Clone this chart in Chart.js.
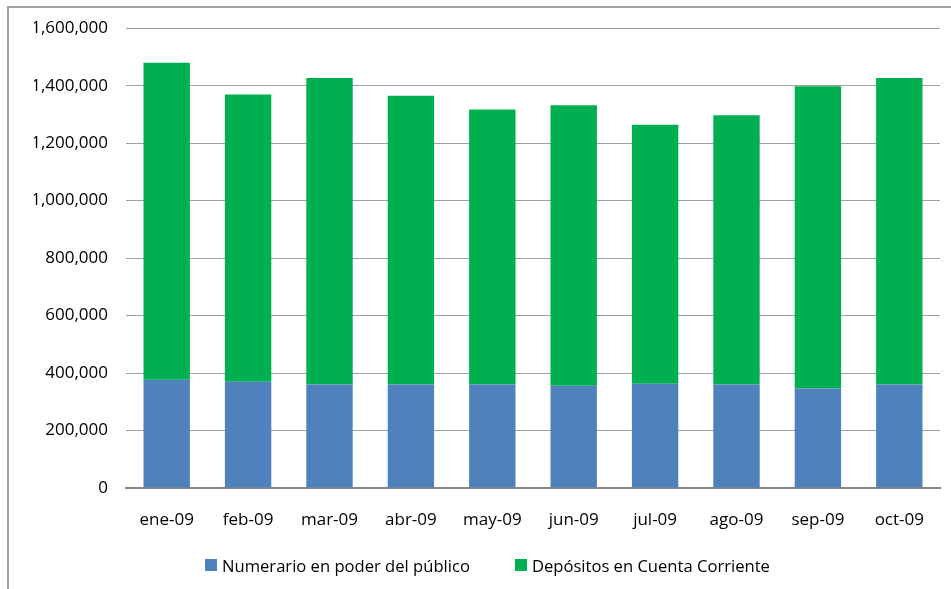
<!DOCTYPE html>
<html lang="es">
<head>
<meta charset="utf-8">
<title>Numerario y depósitos 2009</title>
<script src="https://cdn.jsdelivr.net/npm/chart.js@4.4.1/dist/chart.umd.min.js"></script>
<style>
  html, body { margin: 0; padding: 0; background: #fff; }
  .chart-wrap { position: relative; width: 951px; height: 589px; }
  #legend {
    position: absolute; left: 205px; top: 555px; height: 20px;
    display: flex; align-items: center;
    font-family: 'Open Sans', 'Noto Sans', sans-serif; font-size: 16.6px; color: #000;
  }
  #legend .item { display: flex; align-items: center; margin-right: 45px; white-space: nowrap; }
  #legend .box { width: 12px; height: 12px; margin-right: 5px; }
</style>
</head>
<body>
<div class="chart-wrap">
  <canvas id="monetaryChart"></canvas>
  <div id="legend"></div>
</div>
<script>
// Monthly figures, 2009
const months = ["ene-09", "feb-09", "mar-09", "abr-09", "may-09", "jun-09", "jul-09", "ago-09", "sep-09", "oct-09"];
const numerario = [377000, 370000, 360000, 360000, 360000, 356000, 363000, 360000, 346000, 360000];
const depositos = [1103000, 999000, 1067000, 1005000, 957000, 976000, 901000, 937000, 1052000, 1067000];
const yTicks = [0, 200000, 400000, 600000, 800000, 1000000, 1200000, 1400000, 1600000];

const FONT = "'Open Sans', 'Noto Sans', sans-serif";

// Outer frame of the chart object (left and top edges)
const framePlugin = {
  id: "frame",
  beforeDraw(chart) {
    const ctx = chart.ctx;
    ctx.save();
    ctx.strokeStyle = "#a0a0a0";
    ctx.lineWidth = 2;
    ctx.beginPath();
    ctx.moveTo(8, chart.height);
    ctx.lineTo(8, 7);
    ctx.lineTo(chart.width, 7);
    ctx.stroke();
    ctx.restore();
  }
};

// Legend built in HTML from the chart's own legend items
const htmlLegendPlugin = {
  id: "htmlLegend",
  afterUpdate(chart) {
    const container = document.getElementById("legend");
    container.innerHTML = "";
    const items = chart.options.plugins.legend.labels.generateLabels(chart);
    items.forEach(item => {
      const el = document.createElement("span");
      el.className = "item";
      const box = document.createElement("span");
      box.className = "box";
      box.style.background = item.fillStyle;
      el.appendChild(box);
      el.appendChild(document.createTextNode(item.text));
      container.appendChild(el);
    });
  }
};

new Chart(document.getElementById("monetaryChart"), {
  type: "bar",
  data: {
    labels: months,
    datasets: [
      {
        label: "Numerario en poder del público",
        data: numerario,
        backgroundColor: "#4f81bd",
        barPercentage: 0.57,
        categoryPercentage: 1
      },
      {
        label: "Depósitos en Cuenta Corriente",
        data: depositos,
        backgroundColor: "#00b050",
        barPercentage: 0.57,
        categoryPercentage: 1
      }
    ]
  },
  options: {
    responsive: true,
    maintainAspectRatio: false,
    animation: false,
    layout: { padding: { top: 20, right: 11, bottom: 0, left: 34 } },
    scales: {
      x: {
        stacked: true,
        // room below the axis for the labels and the legend
        afterFit: axis => { axis.height = 101; },
        grid: { display: false, drawTicks: false },
        border: { color: "#868686", width: 2 },
        ticks: { color: "#000", font: { family: FONT, size: 17 }, padding: 22, maxRotation: 0 }
      },
      y: {
        stacked: true,
        min: 0,
        max: 1600000,
        afterBuildTicks: axis => { axis.ticks = yTicks.map(v => ({ value: v })); },
        afterFit: axis => { axis.width = 92; },
        grid: { color: "#a0a0a0", lineWidth: 1, drawTicks: false },
        border: { display: false },
        ticks: {
          color: "#000",
          font: { family: FONT, size: 17 },
          padding: 18,
          callback: v => v.toLocaleString("en-US")
        }
      }
    },
    plugins: {
      legend: { display: false },
      tooltip: { enabled: false }
    }
  },
  plugins: [framePlugin, htmlLegendPlugin]
});
</script>
</body>
</html>
